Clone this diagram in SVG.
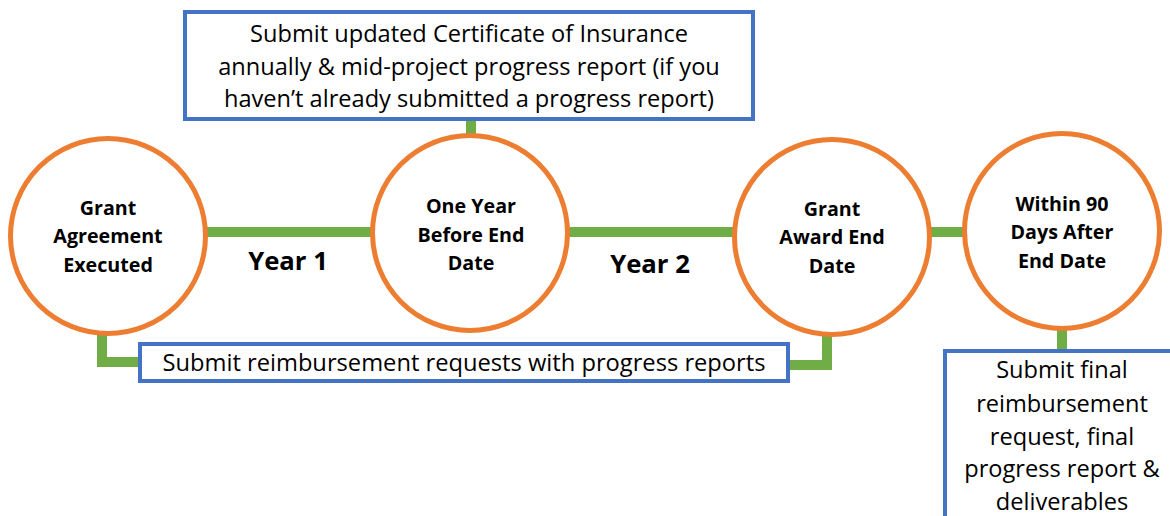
<svg xmlns="http://www.w3.org/2000/svg" width="1170" height="516" viewBox="0 0 1170 516">
<style>
.conn{fill:none;stroke:#70AD47;stroke-width:10}
.circ{fill:#fff;stroke:#ED7D31;stroke-width:5}
.box{fill:#fff;stroke:#4472C4;stroke-width:4}
.ct{font-family:"Open Sans","Liberation Sans",sans-serif;font-weight:bold;font-size:19.7px;fill:#000;text-anchor:middle}
.yr{font-family:"Open Sans","Liberation Sans",sans-serif;font-weight:bold;font-size:25.7px;fill:#000;text-anchor:middle}
.bt{font-family:"Open Sans","Liberation Sans",sans-serif;font-size:23.6px;fill:#000;text-anchor:middle}
</style>
<rect width="1170" height="516" fill="#fff"/>
<g id="connectors">
<path class="conn" d="M200 232 H1000"/>
<path class="conn" d="M471 118 V140"/>
<path class="conn" d="M102 328 V362 H142"/>
<path class="conn" d="M827 330 V365 H786"/>
<path class="conn" d="M1062 325 V352"/>
</g>
<g id="node1"><circle class="circ" cx="108" cy="236" r="97.5"/>
<text class="ct" x="108" y="215">Grant</text><text class="ct" x="108" y="243">Agreement</text><text class="ct" x="108" y="272">Executed</text></g>
<g id="node2"><circle class="circ" cx="470" cy="233" r="97.5"/>
<text class="ct" x="471" y="213">One Year</text><text class="ct" x="471" y="242">Before End</text><text class="ct" x="471" y="270">Date</text></g>
<g id="node3"><circle class="circ" cx="832" cy="237" r="97.5"/>
<text class="ct" x="832" y="216">Grant</text><text class="ct" x="832" y="244">Award End</text><text class="ct" x="832" y="273">Date</text></g>
<g id="node4"><circle class="circ" cx="1062" cy="231" r="97.5"/>
<text class="ct" x="1062" y="211">Within 90</text><text class="ct" x="1062" y="239">Days After</text><text class="ct" x="1062" y="268">End Date</text></g>
<g id="year1"><text class="yr" x="288" y="270">Year 1</text></g>
<g id="year2"><text class="yr" x="650" y="273">Year 2</text></g>
<g id="topbox"><rect class="box" x="185" y="12" width="568" height="107"/>
<text class="bt" x="469" y="42">Submit updated Certificate of Insurance</text>
<text class="bt" x="469" y="75">annually &amp; mid-project progress report (if you</text>
<text class="bt" x="469" y="107">haven’t already submitted a progress report)</text></g>
<g id="bottombox"><rect class="box" x="140" y="344" width="648" height="37"/>
<text class="bt" x="464" y="371" textLength="603" lengthAdjust="spacingAndGlyphs">Submit reimbursement requests with progress reports</text></g>
<g id="finalbox"><rect class="box" x="945" y="351" width="240" height="180"/>
<text class="bt" x="1062" y="378">Submit final</text>
<text class="bt" x="1062" y="412">reimbursement</text>
<text class="bt" x="1062" y="445">request, final</text>
<text class="bt" x="1062" y="477">progress report &amp;</text>
<text class="bt" x="1062" y="510">deliverables</text></g>
</svg>
